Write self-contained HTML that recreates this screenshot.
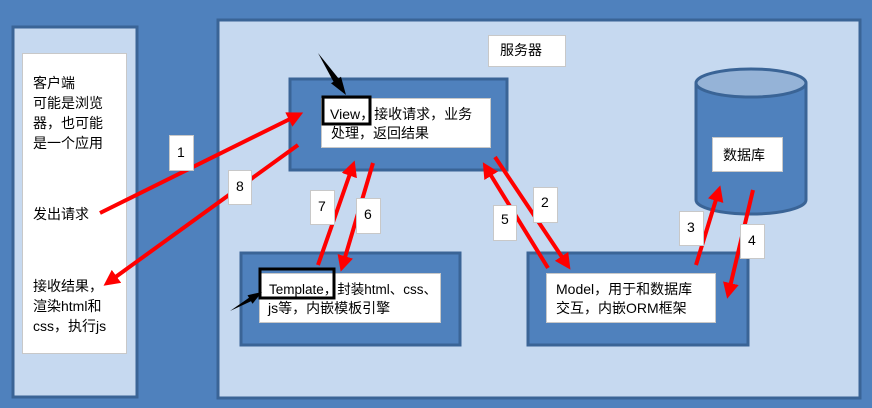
<!DOCTYPE html>
<html><head><meta charset="utf-8"><style>
html,body{margin:0;padding:0;background:#4f81bd;}
svg{display:block}
text{font-family:"Liberation Sans","Noto Sans CJK SC",sans-serif;font-size:14px;fill:#000}
</style></head><body>
<svg width="872" height="408" viewBox="0 0 872 408" xmlns="http://www.w3.org/2000/svg">
<defs>
<marker id="r" markerWidth="4" markerHeight="4" refX="2" refY="2" orient="auto" markerUnits="strokeWidth"><path d="M0,0 L4,2 L0,4 Z" fill="#ff0000"/></marker>
</defs>
<rect width="872" height="408" fill="#4f81bd"/>
<!-- client -->
<rect x="13" y="27" width="124" height="370" fill="#c6d9f0" stroke="#3a6496" stroke-width="3"/>
<rect x="22.5" y="53.5" width="104" height="300" fill="#fff" stroke="#c8c8c8"/>
<text x="33" y="88">客户端</text>
<text x="33" y="108">可能是浏览</text>
<text x="33" y="128">器，也可能</text>
<text x="33" y="148">是一个应用</text>
<text x="33" y="219">发出请求</text>
<text x="33" y="291">接收结果，</text>
<text x="33" y="311">渲染html和</text>
<text x="33" y="331">css，执行js</text>
<!-- server -->
<rect x="218" y="20" width="642" height="378" fill="#c6d9f0" stroke="#3a6496" stroke-width="3"/>
<rect x="488.5" y="35.5" width="77" height="31" fill="#fff" stroke="#c8c8c8"/>
<text x="500" y="55">服务器</text>
<!-- view -->
<rect x="290" y="79" width="217" height="91" fill="#4f81bd" stroke="#3a6496" stroke-width="3"/>
<rect x="321.5" y="98.5" width="169" height="49" fill="#fff" stroke="#c8c8c8"/>
<rect x="323" y="97" width="47" height="27" fill="none" stroke="#000" stroke-width="3"/>
<text x="330" y="119">View，接收请求，业务</text>
<text x="331" y="138">处理，返回结果</text>
<!-- template -->
<rect x="241" y="253" width="219" height="92" fill="#4f81bd" stroke="#3a6496" stroke-width="3"/>
<rect x="259.5" y="273.5" width="181" height="49" fill="#fff" stroke="#c8c8c8"/>
<rect x="260" y="269" width="74" height="29" fill="none" stroke="#000" stroke-width="3"/>
<text x="269" y="294" style="font-size:13.5px">Template，封装html、css、</text>
<text x="268" y="313">js等，内嵌模板引擎</text>
<!-- model -->
<rect x="528" y="253" width="220" height="92" fill="#4f81bd" stroke="#3a6496" stroke-width="3"/>
<rect x="546.5" y="273.5" width="169" height="49" fill="#fff" stroke="#c8c8c8"/>
<text x="556" y="294">Model，用于和数据库</text>
<text x="556" y="313">交互，内嵌ORM框架</text>
<!-- cylinder -->
<path d="M696,83 L696,200 A55,14 0 0 0 806,200 L806,83" fill="#4f81bd" stroke="#3a6496" stroke-width="3"/>
<ellipse cx="751" cy="83" rx="55" ry="14" fill="#95b3d7" stroke="#3a6496" stroke-width="3"/>
<rect x="712.5" y="137.5" width="70" height="34" fill="#fff" stroke="#c8c8c8"/>
<text x="723" y="160">数据库</text>
<!-- red arrows -->
<g stroke="#ff0000" stroke-width="4" marker-end="url(#r)" fill="none">
<line x1="100" y1="213" x2="296" y2="116"/>
<line x1="298" y1="145" x2="110" y2="281"/>
<line x1="318" y1="265" x2="352" y2="168"/>
<line x1="373" y1="163" x2="343" y2="264"/>
<line x1="548" y1="268" x2="487" y2="169"/>
<line x1="495" y1="157" x2="566" y2="263"/>
<line x1="696" y1="265" x2="718" y2="193"/>
<line x1="753" y1="190" x2="729" y2="291"/>
</g>
<!-- black wedge arrows -->
<polygon points="318,53 338.5,78.4 341,76.7 346,95 331,83.3 333.5,81.7" fill="#000"/>
<polygon points="230,311 249,297.8 247.5,295.2 262,292 252.5,303.8 251,301.2" fill="#000"/>
<!-- number labels -->
<g fill="#fff" stroke="#c8c8c8">
<rect x="169.5" y="135.5" width="24" height="35"/>
<rect x="228.5" y="170.5" width="23" height="34"/>
<rect x="310.5" y="190.5" width="24" height="34"/>
<rect x="356.5" y="198.5" width="24" height="35"/>
<rect x="493.5" y="205.5" width="23" height="35"/>
<rect x="533.5" y="187.5" width="24" height="35"/>
<rect x="679.5" y="211.5" width="24" height="34"/>
<rect x="740.5" y="224.5" width="24" height="34"/>
</g>
<text x="177" y="157">1</text>
<text x="236" y="191">8</text>
<text x="318" y="211">7</text>
<text x="364" y="219">6</text>
<text x="501" y="224">5</text>
<text x="541" y="207">2</text>
<text x="687" y="232">3</text>
<text x="748" y="245">4</text>
</svg>
</body></html>
